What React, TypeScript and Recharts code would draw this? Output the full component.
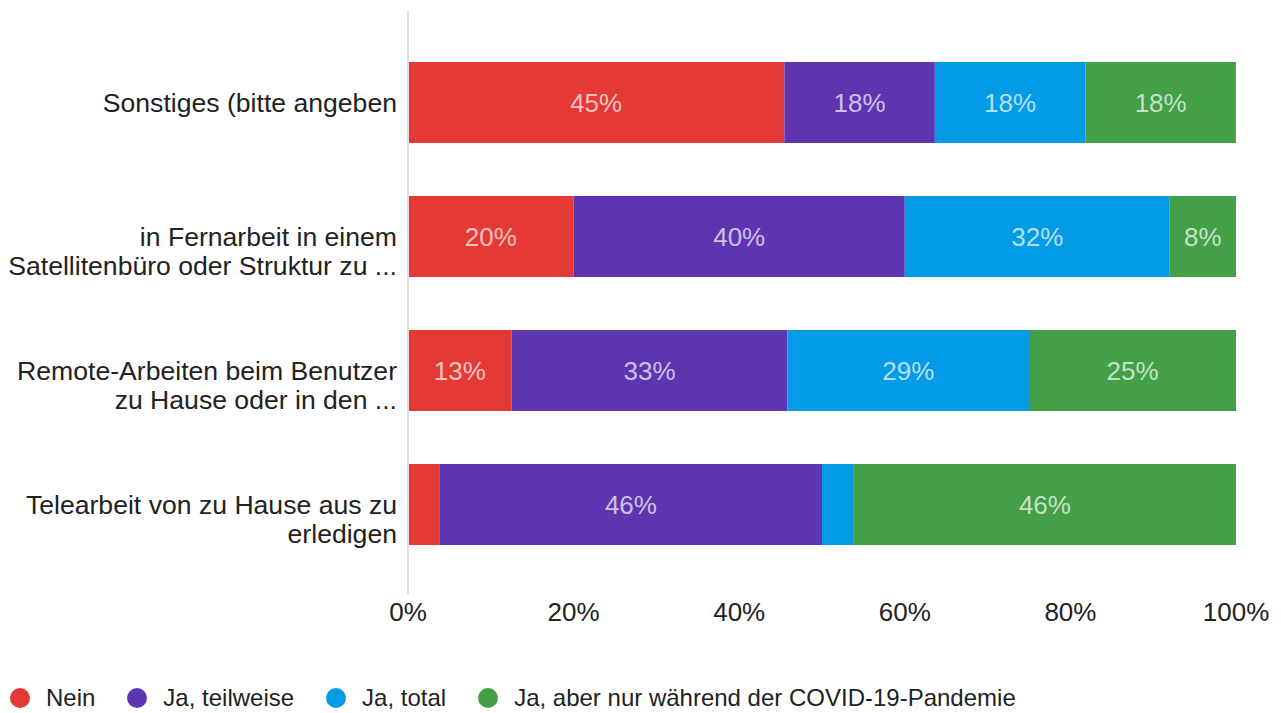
import React from 'react';
import { BarChart, Bar, XAxis, YAxis, Legend, LabelList } from 'recharts';

const FONT = '"Liberation Sans", Arial, sans-serif';

const categories = [
  'Sonstiges (bitte angeben',
  'in Fernarbeit in einem\nSatellitenbüro oder Struktur zu ...',
  'Remote-Arbeiten beim Benutzer\nzu Hause oder in den ...',
  'Telearbeit von zu Hause aus zu\nerledigen',
];
const seriesNames = ['Nein', 'Ja, teilweise', 'Ja, total', 'Ja, aber nur während der COVID-19-Pandemie'];
const seriesKeys = ['nein', 'teilweise', 'total', 'covid'];
const nein = [45.45, 20, 12.5, 3.85];
const teilweise = [18.18, 40, 33.33, 46.15];
const total = [18.18, 32, 29.17, 3.85];
const covid = [18.18, 8, 25, 46.15];
const xTicks = [0, 20, 40, 60, 80, 100];
const colors = ['#e53935', '#5e35b1', '#039be5', '#43a047'];

const data = categories.map((name, i) => ({
  name,
  nein: nein[i],
  teilweise: teilweise[i],
  total: total[i],
  covid: covid[i],
}));

const YTick = (props: any) => {
  const { x, y, payload } = props;
  const lines = String(payload.value).split('\n');
  return (
    <g>
      {lines.map((l, i) => (
        <text
          key={i}
          x={x}
          y={y + i * 29.5}
          dy="0.36em"
          textAnchor="end"
          fill="#222"
          fontSize={26.6}
          fontFamily={FONT}
        >
          {l}
        </text>
      ))}
    </g>
  );
};

const renderLabel = (props: any) => {
  const { x, y, width, height, value } = props;
  if (value == null || Number(value) < 5) return null;
  return (
    <text
      x={Number(x) + Number(width) / 2}
      y={Number(y) + Number(height) / 2}
      dy="0.36em"
      textAnchor="middle"
      fill="#ffffff"
      fillOpacity={0.7}
      fontSize={26}
      fontFamily={FONT}
    >
      {Math.round(Number(value))}%
    </text>
  );
};

const LegendContent = () => (
  <div
    style={{
      display: 'flex',
      alignItems: 'center',
      height: 30,
      paddingLeft: 10,
      fontFamily: FONT,
      fontSize: 24,
      color: '#222',
    }}
  >
    {seriesNames.map((n, i) => (
      <div key={n} style={{ display: 'flex', alignItems: 'center', marginRight: 32 }}>
        <span
          style={{
            display: 'inline-block',
            width: 20,
            height: 20,
            borderRadius: '50%',
            background: colors[i],
            marginRight: 16,
          }}
        />
        <span>{n}</span>
      </div>
    ))}
  </div>
);

export default function App() {
  return (
    <div style={{ position: 'absolute', left: 0, top: 0, background: '#fff' }}>
      <BarChart
        width={1281}
        height={713}
        data={data}
        layout="vertical"
        margin={{ top: 11, right: 45, left: 0, bottom: 48 }}
      >
        <XAxis
          type="number"
          domain={[0, 100]}
          ticks={xTicks}
          tickFormatter={(v) => `${v}%`}
          axisLine={false}
          tickLine={false}
          height={40}
          tick={{ fill: '#222', fontSize: 26, fontFamily: FONT }}
          interval={0}
        />
        <YAxis
          type="category"
          dataKey="name"
          width={408}
          tickLine={false}
          tickMargin={5}
          axisLine={{ stroke: '#e0e0e0', strokeWidth: 2 }}
          padding={{ top: 24, bottom: 24 }}
          tick={<YTick />}
          interval={0}
        />
        {seriesKeys.map((k, i) => (
          <Bar
            key={k}
            dataKey={k}
            name={seriesNames[i]}
            stackId="a"
            fill={colors[i]}
            barSize={81}
            isAnimationActive={false}
          >
            <LabelList dataKey={k} content={renderLabel} />
          </Bar>
        ))}
        <Legend
          content={<LegendContent />}
          verticalAlign="bottom"
          wrapperStyle={{ left: 0, bottom: 0, width: 1281, height: 30 }}
        />
      </BarChart>
    </div>
  );
}
